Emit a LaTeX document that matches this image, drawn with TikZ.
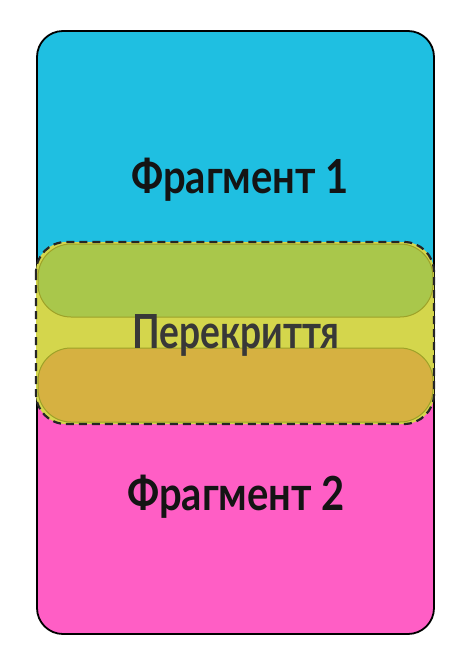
\documentclass[tikz,border=0pt]{standalone}
\usepackage{fontspec}
\newfontfamily\labfont{Lato}
\definecolor{fragA}{HTML}{1FBFE1}
\definecolor{fragB}{HTML}{FF5EC5}
\definecolor{ovYel}{HTML}{D4D64C}
\definecolor{ovGrn}{HTML}{A9C74B}
\definecolor{ovOrg}{HTML}{D6B141}
\definecolor{ovLine}{HTML}{9EA228}
\tikzset{
  frame/.style={draw=black, line width=1.8pt, rounded corners=26pt},
  ovbox/.style={draw=black!85, line width=2.2pt, dash pattern=on 8pt off 5pt, rounded corners=30pt},
  band/.style={draw=ovLine, line width=1pt, rounded corners=33pt},
  lab/.style={font=\labfont\bfseries\fontsize{47}{50}\selectfont, text=black!92, inner sep=0pt},
}
\begin{document}
\begin{tikzpicture}[x=1pt,y=-1pt]
\useasboundingbox (0,0) rectangle (472,672);
% fragments
\begin{scope}
  \clip[rounded corners=26pt] (37,31) rectangle (434,634);
  \fill[fragA] (30,25) rectangle (440,333);
  \fill[fragB] (30,333) rectangle (440,640);
\end{scope}
\draw[frame] (37,31) rectangle (434,634);
% overlap
\fill[ovYel, rounded corners=30pt] (36,242) rectangle (434,424);
\filldraw[band, fill=ovGrn] (38,244) rectangle (433,317);
\filldraw[band, fill=ovOrg] (38,348) rectangle (433,422);
\draw[ovbox] (36,242) rectangle (434,424);
% labels
\node[lab, anchor=base] (f1) at (240,193) {\scalebox{0.85}[1]{Фрагмент 1}};
\node[lab, anchor=base, text=black!78] (ov) at (236,348) {\scalebox{0.79}[1]{Перекриття}};
\node[lab, anchor=base] (f2) at (236,510) {\scalebox{0.85}[1]{Фрагмент 2}};
\end{tikzpicture}
\end{document}
